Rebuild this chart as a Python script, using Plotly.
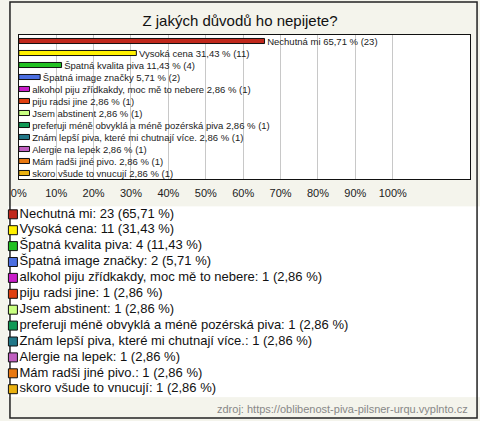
import plotly.graph_objects as go

title = "Z jakých důvodů ho nepijete?"
labels = [
    "Nechutná mi",
    "Vysoká cena",
    "Špatná kvalita piva",
    "Špatná image značky",
    "alkohol piju zřídkakdy, moc mě to nebere",
    "piju radsi jine",
    "Jsem abstinent",
    "preferuji méně obvyklá a méně pozérská piva",
    "Znám lepší piva, které mi chutnají více.",
    "Alergie na lepek",
    "Mám radši jiné pivo.",
    "skoro všude to vnucují",
]
counts = [23, 11, 4, 2, 1, 1, 1, 1, 1, 1, 1, 1]
pcts = [65.71, 31.43, 11.43, 5.71, 2.86, 2.86, 2.86, 2.86, 2.86, 2.86, 2.86, 2.86]
colors = ["#c0281c", "#fff000", "#22c022", "#4a6ee0", "#c81ec8", "#e04010",
          "#c8ff80", "#119955", "#227788", "#c060c0", "#e87810", "#e8b010"]
tick_vals = [0, 10, 20, 30, 40, 50, 60, 70, 80, 90, 100]
tick_text = [f"{v}%" for v in tick_vals]
source = "zdroj: https://oblibenost-piva-pilsner-urqu.vyplnto.cz"

def fmt(p):
    return f"{p:.2f}".replace(".", ",")

bar_text = [f"\u00a0{l} {fmt(p)} % ({c})" for l, p, c in zip(labels, pcts, counts)]
legend_text = [f"{l}: {c} ({fmt(p)} %)" for l, p, c in zip(labels, pcts, counts)]

W, H = 480, 421
FONT = "Liberation Sans, Arial, sans-serif"

fig = go.Figure()
fig.add_trace(go.Bar(
    x=pcts, y=labels, orientation="h",
    marker=dict(color=colors, line=dict(color="#111", width=1)),
    width=0.42,
    text=bar_text, textposition="outside", constraintext="none", textangle=0,
    textfont=dict(family=FONT, size=9.5, color="#222"),
    cliponaxis=False, showlegend=False, hoverinfo="skip",
    xaxis="x", yaxis="y",
))

# legend drawn as a scatter of square markers with labels
fig.add_trace(go.Scatter(
    x=[0] * len(labels), y=list(range(len(labels))),
    mode="markers+text",
    marker=dict(symbol="square", size=9, color=colors, line=dict(color="#111", width=1)),
    text=legend_text, textposition="middle right",
    textfont=dict(family=FONT, size=13, color="#111"),
    showlegend=False, hoverinfo="skip", cliponaxis=False,
    xaxis="x2", yaxis="y2",
))

leg_top = 214.3 - 7.95
leg_bot = leg_top + 15.9 * 12

fig.update_layout(
    width=W, height=H,
    margin=dict(l=0, r=0, t=0, b=0),
    paper_bgcolor="#f4f4ec",
    plot_bgcolor="#ffffff",
    font=dict(family=FONT, color="#222"),
    title=dict(text=title, x=0.5, xanchor="center", y=1 - 21 / H, yanchor="middle",
               font=dict(family=FONT, size=15, color="#111")),
    xaxis=dict(domain=[11 / W, 470 / W], range=[0, 120.7],
               tickvals=tick_vals, ticktext=tick_text,
               tickfont=dict(family=FONT, size=11, color="#222"),
               showgrid=True, gridcolor="#c8c8c8", gridwidth=1,
               showline=True, mirror=True, linecolor="#111", linewidth=1,
               zeroline=False, ticks="", ticklabelstandoff=4, fixedrange=True),
    yaxis=dict(domain=[1 - 179 / H, 1 - 35 / H], type="category",
               categoryorder="array", categoryarray=labels, autorange="reversed",
               showticklabels=False, showgrid=False,
               showline=True, mirror=True, linecolor="#111", linewidth=1,
               ticks="", fixedrange=True),
    xaxis2=dict(domain=[0, 1], range=[-5, W - 5], visible=False, fixedrange=True,
                anchor="y2"),
    yaxis2=dict(domain=[1 - leg_bot / H, 1 - leg_top / H], range=[11.5, -0.5],
                visible=False, fixedrange=True, anchor="x2"),
    bargap=0.5,
    annotations=[dict(text=source, xref="paper", yref="paper",
                      x=470 / W, y=1 - 409 / H, xanchor="right", yanchor="middle",
                      showarrow=False, font=dict(family=FONT, size=11, color="#888"))],
    shapes=[dict(type="rect", xref="paper", yref="paper",
                 x0=2 / W, x1=477 / W, y0=1 - 418 / H, y1=1 - 2 / H,
                 line=dict(color="#222", width=1.5), fillcolor="rgba(0,0,0,0)",
                 layer="below")],
)

fig.write_html(
    "out.html",
    config={"displayModeBar": False},
    post_script="document.body.style.margin='0';document.body.style.overflow='hidden';",
)
